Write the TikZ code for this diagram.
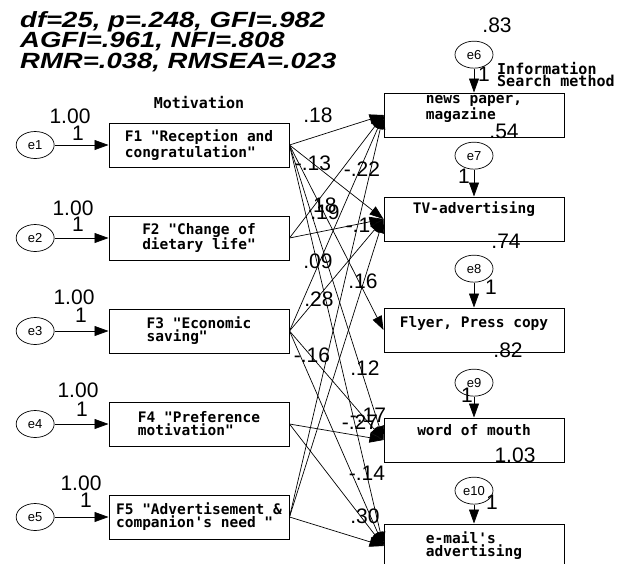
\documentclass[tikz,border=0pt]{standalone}
\usepackage{fontspec}
\setmainfont{Liberation Sans}
\newfontfamily\boxfont{DejaVu Sans Mono}
\newfontfamily\statfont{Liberation Sans}[FakeStretch=1.25]
\usetikzlibrary{arrows.meta,positioning,shapes.geometric}

\begin{document}
\begin{tikzpicture}[x=1pt,y=-1pt,
  factor/.style={draw,line width=1pt,minimum width=180pt,minimum height=44pt,
    inner ysep=1pt,align=left,font=\boxfont\bfseries\fontsize{14.5}{13}\selectfont},
  err/.style={draw,ellipse,line width=0.7pt,minimum width=38pt,minimum height=27pt,
    inner sep=0pt,font=\fontsize{13}{13}\selectfont},
  coef/.style={inner sep=0pt,font=\fontsize{21}{21}\selectfont},
  link/.style={line width=0.7pt,-{Triangle[length=14pt,width=10pt]}}]
\useasboundingbox (0,0) rectangle (644,563);

% fit indices
\node[anchor=north west,inner sep=0pt,align=left,
  font=\statfont\bfseries\itshape\fontsize{22}{20.5}\selectfont] (stats) at (20,11)
  {df=25, p=.248, GFI=.982\\AGFI=.961, NFI=.808\\RMR=.038, RMSEA=.023};

% motivation factors
\node[factor] (F1) at (199,145) {F1 "Reception and\\congratulation"};
\node[factor,below=48pt of F1] (F2) {F2 "Change of\\dietary life"};
\node[factor,below=48pt of F2] (F3) {F3 "Economic\\saving"};
\node[factor,below=48pt of F3] (F4) {F4 "Preference\\motivation"};
\node[factor,below=48pt of F4] (F5) {F5 "Advertisement \&\\companion's need "};
\node[font=\boxfont\bfseries\fontsize{15}{15}\selectfont] (mot) at (199,103) {Motivation};

% information search methods
\node[factor,text depth=15pt] (news) at (474,115) {news paper,\\magazine};
\node[factor,text depth=22pt,below=59pt of news] (tv) {TV-advertising};
\node[factor,text depth=16pt,below=66pt of tv] (flyer) {Flyer, Press copy};
\node[factor,text depth=20pt,below=65pt of flyer] (mouth) {word of mouth};
\node[factor,below=61pt of mouth] (email) {e-mail's\\advertising};
\node[anchor=north west,inner sep=0pt,align=left,
  font=\boxfont\bfseries\fontsize{15}{12}\selectfont] (ism) at (497,62)
  {Information\\Search method};

% error terms
\node[err,left=54pt of F1] (e1) {e1};
\node[err,left=54pt of F2] (e2) {e2};
\node[err,left=54pt of F3] (e3) {e3};
\node[err,left=54pt of F4] (e4) {e4};
\node[err,left=54pt of F5] (e5) {e5};
\node[err,above=24pt of news] (e6) {e6};
\node[err,above=27pt of tv] (e7) {e7};
\node[err,above=25pt of flyer] (e8) {e8};
\node[err,above=21pt of mouth] (e9) {e9};
\node[err,above=19pt of email] (e10) {e10};

% variances and fixed weights
\node[coef] (l1) at (70,116) {1.00};
\node[coef] (l2) at (73,208) {1.00};
\node[coef] (l3) at (74,297) {1.00};
\node[coef] (l4) at (78,390) {1.00};
\node[coef] (l5) at (81,483) {1.00};
\node[coef] (o1) at (78,133) {1};
\node[coef] (o2) at (78,224) {1};
\node[coef] (o3) at (81,315) {1};
\node[coef] (o4) at (82,409) {1};
\node[coef] (o5) at (86,500) {1};
\node[coef] (r6) at (497,25) {.83};
\node[coef] (r7) at (504,131) {.54};
\node[coef] (r8) at (506,241) {.74};
\node[coef] (r9) at (508,350) {.82};
\node[coef] (r10) at (515,455) {1.03};
\node[coef] (o6) at (484,74) {1};
\node[coef] (o7) at (464,176) {1};
\node[coef] (o8) at (491,287) {1};
\node[coef] (o9) at (467,395) {1};
\node[coef] (o10) at (492,502) {1};

% path coefficients
\node[coef] (c1) at (318,115) {.18};
\node[coef] (c2) at (313,163) {-.13};
\node[coef] (c3) at (362,169) {-.22};
\node[coef] (c4) at (322,205) {.18};
\node[coef] (c5) at (325,212) {.19};
\node[coef] (c6) at (358,225) {-.1};
\node[coef] (c7) at (318,261) {.09};
\node[coef] (c8) at (363,281) {.16};
\node[coef] (c9) at (319,299) {.28};
\node[coef] (c10) at (312,355) {-.16};
\node[coef] (c11) at (365,368) {.12};
\node[coef] (c12) at (368,415) {-.17};
\node[coef] (c13) at (360,422) {-.27};
\node[coef] (c14) at (367,473) {-.14};
\node[coef] (c15) at (365,516) {.30};

\draw[link] (e1) -- (F1);
\draw[link] (e2) -- (F2);
\draw[link] (e3) -- (F3);
\draw[link] (e4) -- (F4);
\draw[link] (e5) -- (F5);
\draw[link] (e6) -- (news);
\draw[link] (e7) -- (tv);
\draw[link] (e8) -- (flyer);
\draw[link] (e9) -- (mouth);
\draw[link] (e10) -- (email);

\draw[link] (F1.east) -- (news.west);
\draw[link] (F1.east) -- (tv.west);
\draw[link] (F1.east) -- (flyer.west);
\draw[link] (F1.east) -- (mouth.west);
\draw[link] (F1.east) -- (email.west);
\draw[link] (F2.east) -- (news.west);
\draw[link] (F2.east) -- (tv.west);
\draw[link] (F3.east) -- (news.west);
\draw[link] (F3.east) -- (tv.west);
\draw[link] (F3.east) -- (mouth.west);
\draw[link] (F3.east) -- (email.west);
\draw[link] (F4.east) -- (mouth.west);
\draw[link] (F4.east) -- (email.west);
\draw[link] (F5.east) -- (news.west);
\draw[link] (F5.east) -- (tv.west);
\draw[link] (F5.east) -- (email.west);
\end{tikzpicture}
\end{document}
